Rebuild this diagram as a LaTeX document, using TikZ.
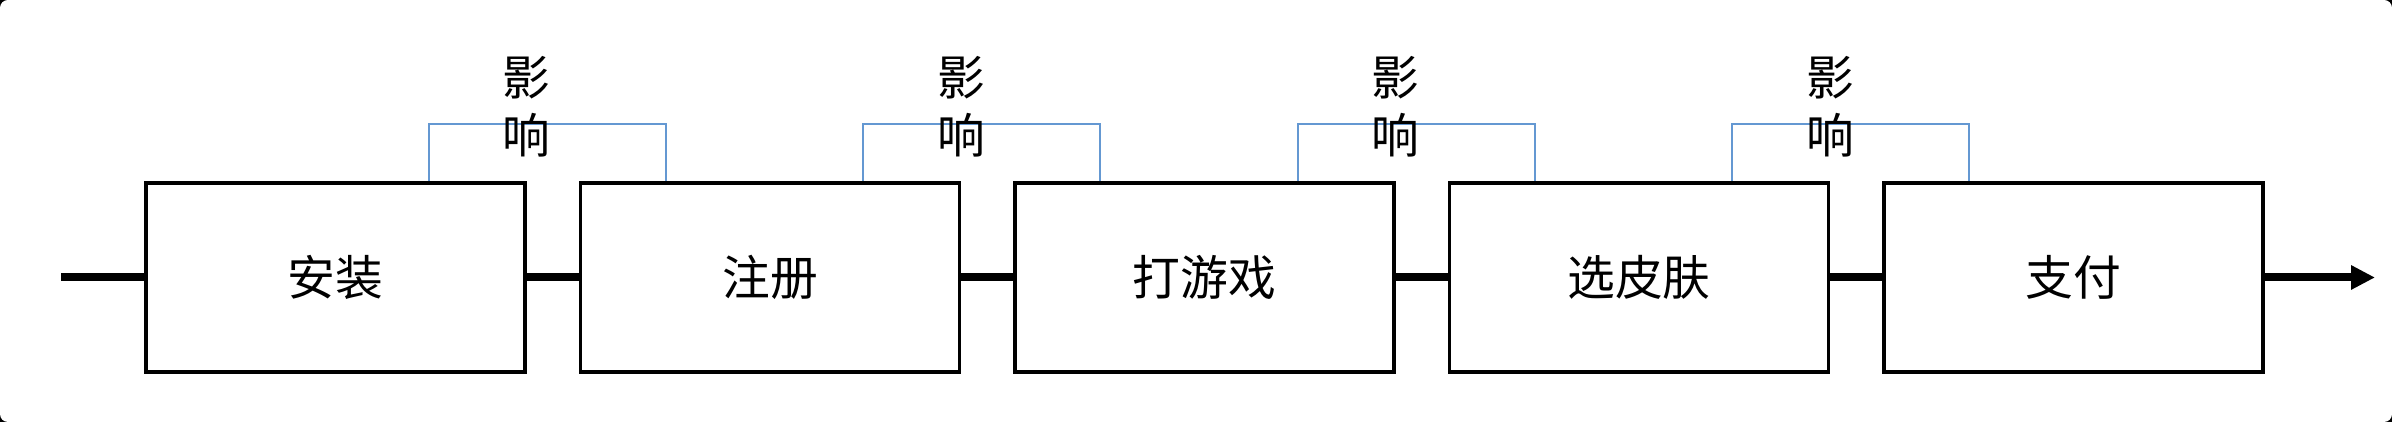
\documentclass[tikz,border=0pt]{standalone}
\usepackage{fontspec}
\newfontfamily\cjk{Noto Sans CJK SC}
\usetikzlibrary{arrows.meta}
\definecolor{linkblue}{RGB}{100,152,210}
\tikzset{
  stagebox/.style={draw=black, line width=1pt, fill=white, minimum width=3.79cm, minimum height=1.89cm, inner sep=0pt, font=\cjk\fontsize{13.6pt}{16pt}\selectfont},
  flowline/.style={line width=0.08cm},
  influence/.style={draw=linkblue, line width=0.6pt},
  infotext/.style={align=center, inner sep=0pt, font=\cjk\fontsize{13.6pt}{16.5pt}\selectfont}
}
\begin{document}
\begin{tikzpicture}
\fill[black] (0,0) rectangle (23.92,4.22);
\fill[white, rounded corners=0.08cm] (0,0) rectangle (23.92,4.22);
\useasboundingbox (0,0) rectangle (23.92,4.22);
\coordinate (start) at (0.61,1.445);
\coordinate (finish) at (23.75,1.445);
\node[stagebox] (a) at (3.355,1.445) {安装};
\node[stagebox] (b) at (7.70,1.445) {注册};
\node[stagebox] (c) at (12.045,1.445) {打游戏};
\node[stagebox] (d) at (16.39,1.445) {选皮肤};
\node[stagebox] (e) at (20.735,1.445) {支付};
\draw[flowline] (start) -- (a.west);
\draw[flowline] (a.east) -- (b.west);
\draw[flowline] (b.east) -- (c.west);
\draw[flowline] (c.east) -- (d.west);
\draw[flowline] (d.east) -- (e.west);
\draw[flowline, -{Triangle[length=0.24cm,width=0.23cm]}] (e.east) -- (finish);
\foreach \p/\q/\n in {a/b/1,b/c/2,c/d/3,d/e/4}{
  \draw[influence] ([xshift=-0.98cm]\p.north east) -- ++(0,0.57) -| ([xshift=0.87cm]\q.north west);
  \node[infotext] (t\n) at ([yshift=0.74cm]\p.north east) {影\\响};
}
\end{tikzpicture}
\end{document}
